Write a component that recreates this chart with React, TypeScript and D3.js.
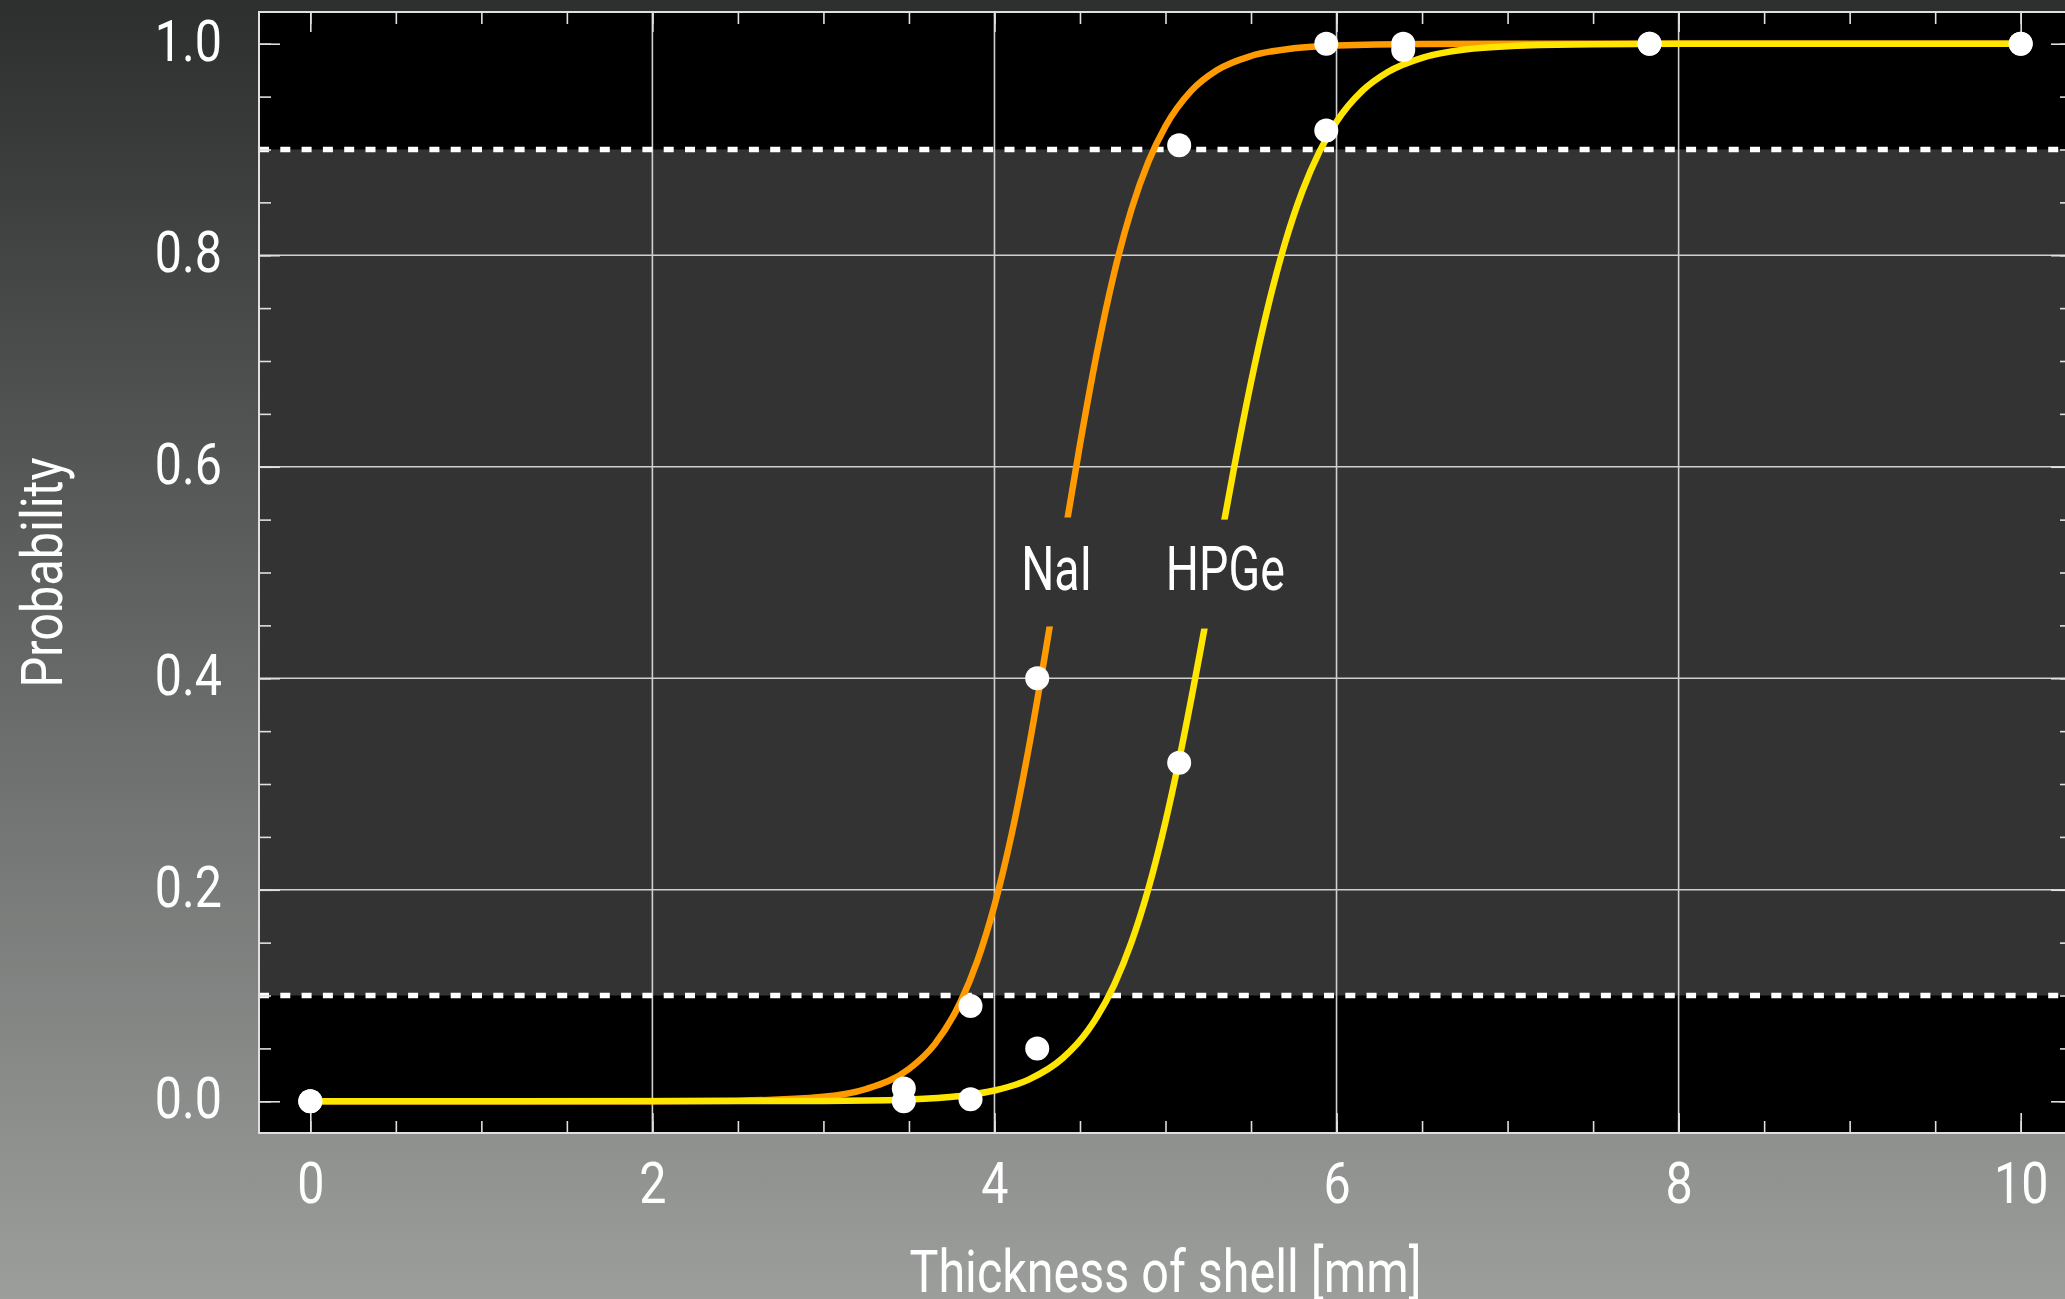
import React, { useEffect, useRef } from "react";
import * as d3 from "d3";

// measured detection probability vs shell thickness (mm)
const thickness = [0, 3.47, 3.86, 4.25, 5.08, 5.94, 6.39, 7.83, 10];
const naiMeasured = [0, 0.012, 0.09, 0.4, 0.904, 1.0, 1.0, 1.0, 1.0];
const hpgeMeasured = [0, 0, 0.002, 0.05, 0.32, 0.918, 0.994, 1.0, 1.0];

// fitted curves
const naiFitX = [0, 2.0, 2.5, 3.0, 3.25, 3.5, 3.65, 3.8, 3.9, 4.0, 4.1, 4.2, 4.3, 4.4, 4.5, 4.6, 4.7, 4.8, 4.9, 5.0, 5.15, 5.3, 5.5, 5.75, 6.0, 6.5, 7.0, 8.0, 10.0];
const naiFitY = [0, 0.0001, 0.0006, 0.0043, 0.0116, 0.0305, 0.0538, 0.0934, 0.1327, 0.1852, 0.2521, 0.3336, 0.4265, 0.5247, 0.6211, 0.7087, 0.7833, 0.8429, 0.8884, 0.922, 0.9554, 0.9749, 0.9884, 0.9957, 0.9984, 0.9998, 1.0, 1.0, 1.0];
const hpgeFitX = [0, 3.0, 3.5, 3.8, 4.0, 4.2, 4.4, 4.55, 4.7, 4.8, 4.9, 5.0, 5.1, 5.2, 5.3, 5.4, 5.5, 5.6, 5.7, 5.8, 5.9, 6.0, 6.15, 6.3, 6.5, 6.75, 7.0, 7.5, 8.0, 10.0];
const hpgeFitY = [0, 0.0003, 0.0017, 0.005, 0.0102, 0.0205, 0.0409, 0.0677, 0.1101, 0.15, 0.2011, 0.2644, 0.3389, 0.4225, 0.5107, 0.5982, 0.68, 0.7519, 0.8122, 0.8605, 0.898, 0.9263, 0.9554, 0.9733, 0.9867, 0.9945, 0.9977, 0.9996, 0.9999, 1.0];

const seriesNames = ["NaI", "HPGe"];
const seriesColors = ["#ff9a00", "#ffe600"];
const labelX = [4.364, 5.35];
const labelY = [0.483, 0.483];
const labelWidth = [71, 119];
const labelGapLow = [0.449, 0.447];
const labelGapHigh = [0.552, 0.55];

const xTicks = [0, 2, 4, 6, 8, 10];
const yTicks = [0, 0.2, 0.4, 0.6, 0.8, 1.0];
const xGrid = [2, 4, 6, 8];
const yGrid = [0.2, 0.4, 0.6, 0.8];
const thresholds = [0.1, 0.9];

const FONT = "Roboto, 'Noto Sans', sans-serif";
const NARROW = 0.85;

export default function App() {
  const svgRef = useRef<SVGSVGElement | null>(null);

  useEffect(() => {
    const width = 2065;
    const height = 1299;
    const left = 259, right = 2072, top = 12, bottom = 1133;

    const svg = d3.select(svgRef.current).attr("width", width).attr("height", height);
    svg.selectAll("*").remove();

    const defs = svg.append("defs");
    const grad = defs.append("linearGradient").attr("id", "bg").attr("x1", 0).attr("y1", 0).attr("x2", 0).attr("y2", 1);
    grad.append("stop").attr("offset", "0%").attr("stop-color", "#2d2f2f");
    grad.append("stop").attr("offset", "100%").attr("stop-color", "#9c9e9c");
    defs.append("clipPath").attr("id", "plotClip")
      .append("rect").attr("x", left).attr("y", top).attr("width", right - left).attr("height", bottom - top);

    svg.append("rect").attr("width", width).attr("height", height).attr("fill", "url(#bg)");

    const x = d3.scaleLinear().domain([-0.3, 10.3]).range([left, right]);
    const y = d3.scaleLinear().domain([-0.03, 1.03]).range([bottom, top]);

    const plot = svg.append("g").attr("clip-path", "url(#plotClip)");

    // bands: black outside the 0.1..0.9 window, dark grey inside
    plot.append("rect").attr("x", left).attr("y", top).attr("width", right - left).attr("height", bottom - top).attr("fill", "#000");
    plot.append("rect")
      .attr("x", left).attr("width", right - left)
      .attr("y", y(thresholds[1])).attr("height", y(thresholds[0]) - y(thresholds[1]))
      .attr("fill", "#333333");

    // grid
    plot.selectAll(".gx").data(xGrid).enter().append("line")
      .attr("x1", (d) => x(d)).attr("x2", (d) => x(d)).attr("y1", top).attr("y2", bottom)
      .attr("stroke", "#d0d0d0").attr("stroke-width", 1.6);
    plot.selectAll(".gy").data(yGrid).enter().append("line")
      .attr("y1", (d) => y(d)).attr("y2", (d) => y(d)).attr("x1", left).attr("x2", right)
      .attr("stroke", "#d0d0d0").attr("stroke-width", 1.6);

    // threshold lines
    plot.selectAll(".thr").data(thresholds).enter().append("line")
      .attr("x1", left).attr("x2", right).attr("y1", (d) => y(d)).attr("y2", (d) => y(d))
      .attr("stroke", "#fff").attr("stroke-width", 5.5).attr("stroke-dasharray", "10 11.3");

    // ticks, all pointing inward
    const tickStyle = (g: any) => {
      g.select(".domain").remove();
      g.selectAll("line").attr("stroke", "#e0e0e0").attr("stroke-width", 1.6);
    };
    const minorX = d3.range(0, 10.01, 0.5);
    const minorY = d3.range(0, 1.001, 0.05);

    svg.append("g").attr("transform", `translate(0,${bottom})`)
      .call(d3.axisBottom(x).tickValues(minorX).tickSize(-12).tickFormat(() => "")).call(tickStyle);
    svg.append("g").attr("transform", `translate(0,${top})`)
      .call(d3.axisTop(x).tickValues(minorX).tickSize(-12).tickFormat(() => "")).call(tickStyle);
    svg.append("g").attr("transform", `translate(${left},0)`)
      .call(d3.axisLeft(y).tickValues(minorY).tickSize(-12).tickFormat(() => "")).call(tickStyle);
    svg.append("g").attr("transform", `translate(${right},0)`)
      .call(d3.axisRight(y).tickValues(minorY).tickSize(-12).tickFormat(() => "")).call(tickStyle);
    svg.append("g").attr("transform", `translate(0,${top})`)
      .call(d3.axisTop(x).tickValues(xTicks).tickSize(-20).tickFormat(() => "")).call(tickStyle);
    svg.append("g").attr("transform", `translate(${right},0)`)
      .call(d3.axisRight(y).tickValues(yTicks).tickSize(-21).tickFormat(() => "")).call(tickStyle);

    const xAxis = svg.append("g").attr("transform", `translate(0,${bottom})`)
      .call(d3.axisBottom(x).tickValues(xTicks).tickSize(-20).tickPadding(30).tickFormat(d3.format("d")));
    tickStyle(xAxis);
    xAxis.selectAll("text")
      .attr("fill", "#fff").attr("font-size", 57).attr("font-family", FONT)
      .attr("transform", `scale(${NARROW},1)`);

    const yAxis = svg.append("g").attr("transform", `translate(${left},0)`)
      .call(d3.axisLeft(y).tickValues(yTicks).tickSize(-21).tickPadding(37).tickFormat(d3.format(".1f")));
    tickStyle(yAxis);
    yAxis.selectAll("text")
      .attr("fill", "#fff").attr("font-size", 57).attr("font-family", FONT)
      .attr("dy", "0.29em").attr("x", -37 / NARROW)
      .attr("transform", `scale(${NARROW},1)`);

    // frame
    svg.append("rect").attr("x", left).attr("y", top).attr("width", right - left).attr("height", bottom - top)
      .attr("fill", "none").attr("stroke", "#e0e0e0").attr("stroke-width", 2);

    // fitted curves
    const line = d3.line<[number, number]>()
      .x((d) => x(d[0]))
      .y((d) => y(d[1]))
      .curve(d3.curveMonotoneX);
    const fits: [number, number][][] = [
      d3.zip(naiFitX, naiFitY) as [number, number][],
      d3.zip(hpgeFitX, hpgeFitY) as [number, number][],
    ];
    plot.selectAll(".fit").data(fits).enter().append("path")
      .attr("d", (d) => line(d))
      .attr("fill", "none")
      .attr("stroke", (_, i) => seriesColors[i])
      .attr("stroke-width", 6.5)
      .attr("stroke-linejoin", "round");

    // curve labels sitting in a gap of the curve
    seriesNames.forEach((name, i) => {
      const gap = plot.append("rect").attr("fill", "#333333");
      const t = plot.append("text")
        .attr("x", x(labelX[i])).attr("y", y(labelY[i]))
        .attr("text-anchor", "middle")
        .attr("fill", "#fff").attr("font-size", 62).attr("font-family", FONT)
        .attr("textLength", labelWidth[i]).attr("lengthAdjust", "spacingAndGlyphs")
        .text(name);
      const bb = (t.node() as SVGTextElement).getBBox();
      gap.attr("x", bb.x - 12).attr("width", bb.width + 24)
        .attr("y", y(labelGapHigh[i])).attr("height", y(labelGapLow[i]) - y(labelGapHigh[i]));
    });

    // measured points
    const pts = [
      ...d3.zip(thickness, naiMeasured),
      ...d3.zip(thickness, hpgeMeasured),
    ] as [number, number][];
    plot.selectAll(".dot").data(pts).enter().append("circle")
      .attr("cx", (d) => x(d[0])).attr("cy", (d) => y(d[1]))
      .attr("r", 12).attr("fill", "#fff");

    // axis titles
    svg.append("text")
      .attr("x", (left + right) / 2).attr("y", 1292)
      .attr("text-anchor", "middle").attr("fill", "#fff")
      .attr("font-size", 59).attr("font-family", FONT)
      .attr("textLength", 512).attr("lengthAdjust", "spacingAndGlyphs")
      .text("Thickness of shell [mm]");
    svg.append("text")
      .attr("transform", `translate(62,${(top + bottom) / 2}) rotate(-90)`)
      .attr("text-anchor", "middle").attr("fill", "#fff")
      .attr("font-size", 58).attr("font-family", FONT)
      .attr("textLength", 230).attr("lengthAdjust", "spacingAndGlyphs")
      .text("Probability");
  }, []);

  return (
    <div style={{ position: "absolute", left: 0, top: 0, overflow: "hidden", width: 2065, height: 1299 }}>
      <svg ref={svgRef} style={{ display: "block" }}></svg>
    </div>
  );
}
